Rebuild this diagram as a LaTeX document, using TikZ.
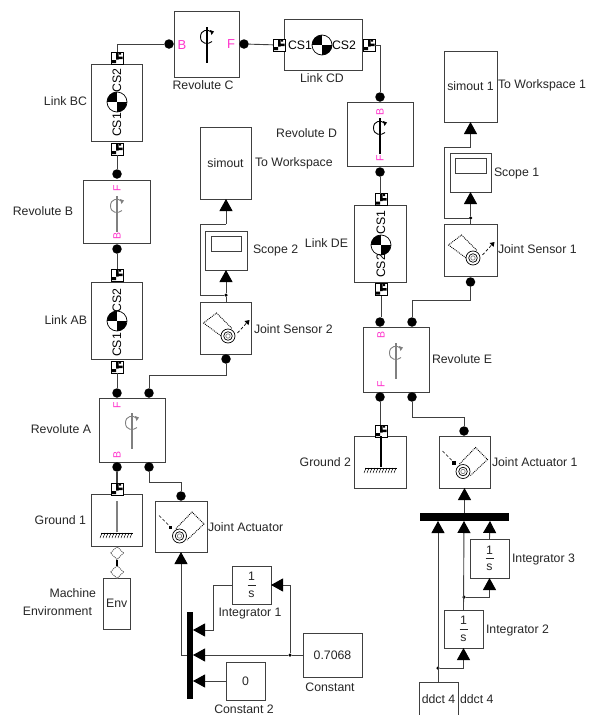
\documentclass[tikz,border=0pt]{standalone}
\usepackage{fontspec}
\setmainfont{Liberation Sans}
\usetikzlibrary{arrows.meta,shapes.geometric}
\definecolor{ln}{HTML}{404040}
\definecolor{pinkl}{HTML}{FF33CC}
\tikzset{
  blockbox/.style={draw=ln,line width=0.9pt,fill=white,inner sep=0pt,outer sep=0pt,font=\fontsize{12.3}{14}\selectfont,text=ln!60!black},
  lbl/.style={inner sep=0pt,outer sep=0pt,font=\fontsize{12.3}{14}\selectfont,text=ln!60!black},
  csl/.style={lbl,rotate=90,text=black},
  pinkbig/.style={inner sep=0pt,text=pinkl,font=\fontsize{13}{15}\selectfont},
  pinksm/.style={inner sep=0pt,text=pinkl,rotate=90,font=\fontsize{10.5}{12}\selectfont},
  dotp/.style={circle,fill=black,minimum size=9.5pt,inner sep=0pt,outer sep=0pt},
  jct/.style={circle,fill=black,minimum size=3.5pt,inner sep=0pt,outer sep=0pt},
  portbox/.style={draw=black,fill=white,line width=0.8pt,minimum size=12pt,inner sep=0pt,outer sep=0pt},
  diab/.style={diamond,draw=ln,densely dotted,fill=white,minimum size=13pt,inner sep=0pt,outer sep=0pt,line width=0.9pt},
  muxb/.style={fill=black,inner sep=0pt,outer sep=0pt},
  wire/.style={draw=ln,line width=0.9pt},
  flow/.style={wire,-{Triangle[length=12pt,width=13pt,color=black]}},
  stub/.style={draw=ln,line width=1.1pt},
  cg/.pic={
    \begin{scope}
      \clip (0,0) circle (10);
      \fill[white] (-10,-10) rectangle (10,10);
      \fill[black] (-10,-10) rectangle (0,0);
      \fill[black] (0,0) rectangle (10,10);
    \end{scope}
    \draw[black,line width=0.7pt] (0,0) circle (10);
  },
  pics/revo/.style={code={
    \draw[#1,line width=1.3pt] (0,-10) -- (0,26);
    \draw[#1,line width=0.9pt] (4.5,-5) .. controls (1,-8) and (-6.5,-7.5) .. (-6.5,0) .. controls (-6.5,7) and (1,8) .. (5,4.5);
    \fill[#1] (3,-7) -- (7,-5.5) -- (4.5,-2) -- cycle;
  }},
  pics/groundsym/.style={code={
    \draw[#1,line width=1.2pt] (0,-26) -- (0,5);
    \draw[black,line width=0.9pt] (-16,6) -- (16,6);
    \foreach \k in {-15,-12,...,15} \draw[black,line width=0.5pt] (\k,6) -- (\k-2,11);
  }},
  sensorsym/.pic={
    \draw[black,densely dotted,line width=0.9pt] (-3,9) -- (-22,-5) -- (-9,-15) -- (7,1);
    \draw[black,line width=0.7pt,fill=white] (2.5,8) circle (7);
    \draw[black,line width=0.7pt] (2.5,8) circle (4.3);
    \draw[gray,line width=0.7pt] (2.5,8) circle (2.2);
    \draw[black,densely dashed,line width=0.7pt] (12,5) -- (22,-6);
    \fill[black] (24,-8) -- (19,-7) -- (23,-3) -- cycle;
  },
  actuatorsym/.pic={
    \draw[black,densely dotted,line width=0.9pt] (-5,2) -- (11,-14.5) -- (23,-2.5) -- (6,13.5);
    \draw[black,line width=0.7pt,fill=white] (-1.5,9.5) circle (7);
    \draw[black,line width=0.7pt] (-1.5,9.5) circle (4.3);
    \draw[gray,line width=0.7pt] (-1.5,9.5) circle (2.2);
    \draw[black,densely dashed,line width=0.7pt] (-22,-11) -- (-11,0);
    \fill[black] (-12.5,-1) rectangle (-9,2.5);
  },
}
\newcommand\blk[6]{\node[blockbox,minimum width={(#4-#2)*1pt},minimum height={(#5-#3)*1pt}] (#1) at ({(#2+#4)/2},{(#3+#5)/2}) {#6};}
\newcommand\port[3]{\node[portbox] (#1) at (#2,#3) {};
  \fill[black,shift={(#2,#3)}] (-1,-5.5) rectangle (1.5,1.5) (1.5,-1.5) rectangle (5.5,1) (-5,2) rectangle (-1,5) (2,-5.5) rectangle (4,-3.5);}
\newcommand\intlabel{\shortstack[c]{1\\[1pt]\rule{8pt}{0.8pt}\\[2pt]s}}
\begin{document}
\begin{tikzpicture}[x=1pt,y=-1pt]
\useasboundingbox (0,0) rectangle (592,715);
\fill[white] (0,0) rectangle (592,715);

% ---- blocks left chain
\blk{revC}{174}{11}{239}{77}{}
\blk{linkCD}{284}{19}{362}{70}{}
\blk{linkBC}{91}{64}{142}{141}{}
\blk{revB}{83}{180}{150}{243.5}{}
\blk{linkAB}{91}{282}{142}{359}{}
\blk{revA}{99}{398}{165}{462}{}
\blk{groundA}{91}{494}{142}{546}{}
\blk{env}{103.5}{578}{130}{629}{Env}
\blk{jact}{155}{501}{207}{552}{}
\blk{intA}{232}{566}{271}{604}{\intlabel}
\blk{constA}{303}{633}{362}{677}{0.7068}
\blk{constB}{226}{662}{265}{700}{0}
\blk{simA}{200}{127}{251}{199}{simout}
\blk{scopeA}{205}{231}{247}{270}{}
\blk{sensA}{200}{302}{251}{354}{}
% ---- blocks right chain
\blk{revD}{347}{102.5}{413.5}{166.5}{}
\blk{linkDE}{354.5}{205}{406}{282}{}
\blk{revE}{363}{327}{429}{392}{}
\blk{groundB}{354.5}{436}{406}{488}{}
\blk{jactB}{439}{436}{490}{488}{}
\blk{simB}{444}{51}{497}{122}{simout 1}
\blk{scopeB}{450}{153}{491}{192}{}
\blk{sensB}{444}{224}{497}{276}{}
\blk{intB}{470}{539}{509}{578}{\intlabel}
\blk{intC}{444}{610}{483}{648}{\intlabel}
\blk{ddct}{419}{682}{458}{719}{}
\node[lbl] (ddctin) at (438.5,699) {ddct 4};

% scope screens
\node[draw=ln,line width=0.9pt,minimum width=30pt,minimum height=15pt,inner sep=0pt] (scrA) at (226,243.5) {};
\node[draw=ln,line width=0.9pt,minimum width=31pt,minimum height=15pt,inner sep=0pt] (scrB) at (470.5,165.5) {};

% muxes
\node[muxb,minimum width=6pt,minimum height=87pt] (muxA) at (190,655.5) {};
\node[muxb,minimum width=89pt,minimum height=8pt] (muxB) at (464,517) {};

% joint dots
\node[dotp] (dC1) at (169,44) {};
\node[dotp] (dC2) at (244,44) {};
\node[dotp] (dBt) at (117,174) {};
\node[dotp] (dBb) at (117,249) {};
\node[dotp] (dAt1) at (117,393) {};
\node[dotp] (dAt2) at (149,393) {};
\node[dotp] (dAb1) at (117,467) {};
\node[dotp] (dAb2) at (149,467) {};
\node[dotp] (dJa) at (181,496) {};
\node[dotp] (dSa) at (226,359) {};
\node[dotp] (dDt) at (380,97) {};
\node[dotp] (dDb) at (380,172) {};
\node[dotp] (dEt1) at (380,322) {};
\node[dotp] (dEt2) at (412,322) {};
\node[dotp] (dEb1) at (380,397) {};
\node[dotp] (dEb2) at (412,397) {};
\node[dotp] (dJb) at (464,431) {};
\node[dotp] (dSb) at (470.5,282) {};

% wires: physical
\coordinate (cCorner) at (117,44);
\coordinate (cCD) at (369,45);
\coordinate (cSa) at (226,375);
\coordinate (cAa) at (149,375);
\coordinate (cJaBend) at (181,482);
\coordinate (cJbBend) at (464,417);
\coordinate (cSb) at (470.5,300);

% ports
\port{pBCt}{117}{58}
\port{pBCb}{117}{149}
\port{pABt}{117}{275}
\port{pABb}{117}{367}
\port{pCDl}{279}{45}
\port{pCDr}{369}{45}
\port{pDEt}{381}{199.5}
\port{pDEb}{381}{289.5}
\port{pGa}{117}{489}
\port{pGb}{381}{431}

\draw[wire] (pBCt.north) -- (cCorner) -- (dC1);
\draw[wire] (dC2) -- (pCDl);
\draw[wire] (pCDr) -- (cCD -| dDt) -- (dDt);
\draw[wire] (dDb) -- (dDb |- pDEt.north);
\draw[wire] (pBCb) -- (dBt);
\draw[wire] (dBb) -- (pABt);
\draw[wire] (pABb) -- (dAt1);
\draw[stub] (dAb1) -- (pGa);
\draw[wire] (pDEb.south) -- (pDEb.south |- dEt1.north);
\draw[wire] (dEb1) -- (dEb1 |- pGb.north);
\draw[wire] (dAt2) -- (cAa) -- (cSa) -- (dSa);
\draw[wire] (dAb2) |- (cJaBend) -- (dJa);
\draw[wire] (dEt2) |- (cSb) -- (dSb);
\draw[wire] (dEb2) |- (cJbBend) -- (dJb);

% environment connector
\node[diab] (dg1) at (117,553) {};
\node[diab] (dg2) at (117,572) {};
\draw[black,line width=1.3pt] (dg1.south) -- (dg2.north);

% signal flow
\node[jct] (jSa) at (226,295) {};
\node[jct] (jSb) at (470.5,218) {};
\node[jct] (jC) at (290,655) {};
\node[jct] (jIb) at (464,597) {};
\node[jct] (jDd) at (438,668) {};
\coordinate (mA1) at (193,630);
\coordinate (mA2) at (193,655);
\coordinate (mA3) at (193,681);
\coordinate (mAo) at (187,655);
\coordinate (mB1) at (438,521);
\coordinate (mB2) at (464,521);
\coordinate (mB3) at (490,521);
\coordinate (aSa) at (200,295);
\coordinate (aSa2) at (200,224);
\coordinate (aSb) at (444,218);
\coordinate (aSb2) at (444,147);
\coordinate (aIa) at (213,585);

\draw[wire] (sensA.north -| jSa) -- (jSa);
\draw[flow] (jSa) -- (scopeA.south -| jSa);
\draw[wire] (jSa) -- (aSa) -- (aSa2) -- (jSa |- aSa2);
\draw[flow] (jSa |- aSa2) -- (simA.south -| jSa);

\draw[wire] (sensB.north -| jSb) -- (jSb);
\draw[flow] (jSb) -- (scopeB.south -| jSb);
\draw[wire] (jSb) -- (aSb) -- (aSb2) -- (jSb |- aSb2);
\draw[flow] (jSb |- aSb2) -- (simB.south -| jSb);

\draw[flow] (mAo) -| (jact.south);
\draw[wire] (constA.west) -- (jC);
\draw[flow] (jC) -- (mA2);
\draw[flow] (jC) |- (intA.east);
\draw[flow] (intA.west) -- (aIa) |- (mA1);
\draw[flow] (constB.west) -- (mA3);

\draw[flow] (muxB.north -| jactB) -- (jactB.south);
\draw[flow] (ddct.north -| jDd) -- (mB1);
\draw[flow] (jDd) -| (intC.south);
\draw[flow] (intC.north) -- (mB2);
\draw[flow] (jIb) -| (intB.south);
\draw[flow] (intB.north) -- (mB3);

% icons
\pic at (322,45) {cg};
\pic at (117,102) {cg};
\pic at (117,321) {cg};
\pic at (381,245) {cg};
\pic at (207,37) {revo=black};
\pic at (117,206) {revo=gray};
\pic at (132,423) {revo=gray};
\pic at (380,128) {revo=black};
\pic at (396,353) {revo=gray};
\pic at (117,527) {groundsym=gray};
\pic at (381,462) {groundsym=black};
\pic at (225.5,328) {sensorsym};
\pic at (470.5,250) {sensorsym};
\pic at (181,526.5) {actuatorsym};
\pic at (464.5,462) {actuatorsym};

% pink labels
\node[pinkbig] (tCb) at (182,45) {B};
\node[pinkbig] (tCf) at (231,44) {F};
\node[pinksm] (tBf) at (117,188) {F};
\node[pinksm] (tBb) at (117,236) {B};
\node[pinksm] (tAf) at (117,405) {F};
\node[pinksm] (tAb) at (117,455) {B};
\node[pinksm] (tDb) at (380,111.5) {B};
\node[pinksm] (tDf) at (380,158) {F};
\node[pinksm] (tEb) at (381,335) {B};
\node[pinksm] (tEf) at (381,384) {F};

% CS labels
\node[csl] (cs1) at (117,125) {CS1};
\node[csl] (cs2) at (117,80.5) {CS2};
\node[csl] (cs3) at (117,345) {CS1};
\node[csl] (cs4) at (117,300.5) {CS2};
\node[csl] (cs5) at (381,222.5) {CS1};
\node[csl] (cs6) at (381,266) {CS2};
\node[lbl,anchor=west,text=black] (cs7) at (288,45) {CS1};
\node[lbl,anchor=east,text=black] (cs8) at (356,45) {CS2};

% outer labels
\node[lbl,anchor=north] (l1) at (203,81) {Revolute C};
\node[lbl,anchor=north] (l2) at (322,74) {Link CD};
\node[lbl,anchor=east] (l3) at (87,101) {Link BC};
\node[lbl,anchor=east] (l4) at (73,211) {Revolute B};
\node[lbl,anchor=east] (l5) at (87,320) {Link AB};
\node[lbl,anchor=east] (l6) at (91,429) {Revolute A};
\node[lbl,anchor=east] (l7) at (86,520) {Ground 1};
\node[lbl,anchor=east] (l8) at (96,593) {Machine};
\node[lbl,anchor=east] (l9) at (92,611) {Environment};
\node[lbl,anchor=west] (l10) at (208,527) {Joint Actuator};
\node[lbl] (l11) at (250,614) {Integrator 1};
\node[lbl] (l12) at (330,687) {Constant};
\node[lbl] (l13) at (244,709) {Constant 2};
\node[lbl,anchor=west] (l14) at (255,163) {To Workspace};
\node[lbl,anchor=west] (l15) at (253,250) {Scope 2};
\node[lbl,anchor=west] (l16) at (254,329) {Joint Sensor 2};
\node[lbl,anchor=east] (l17) at (337,133) {Revolute D};
\node[lbl,anchor=east] (l18) at (348,243) {Link DE};
\node[lbl,anchor=west] (l19) at (432,359) {Revolute E};
\node[lbl,anchor=east] (l20) at (351,462) {Ground 2};
\node[lbl,anchor=west] (l21) at (492,462) {Joint Actuator 1};
\node[lbl,anchor=west] (l22) at (512,559) {Integrator 3};
\node[lbl,anchor=west] (l23) at (486,630) {Integrator 2};
\node[lbl,anchor=west] (l24) at (460,699) {ddct 4};
\node[lbl,anchor=west] (l25) at (498,85.5) {To Workspace 1};
\node[lbl,anchor=west] (l26) at (494,173) {Scope 1};
\node[lbl,anchor=west] (l27) at (498,249) {Joint Sensor 1};
\end{tikzpicture}
\end{document}
